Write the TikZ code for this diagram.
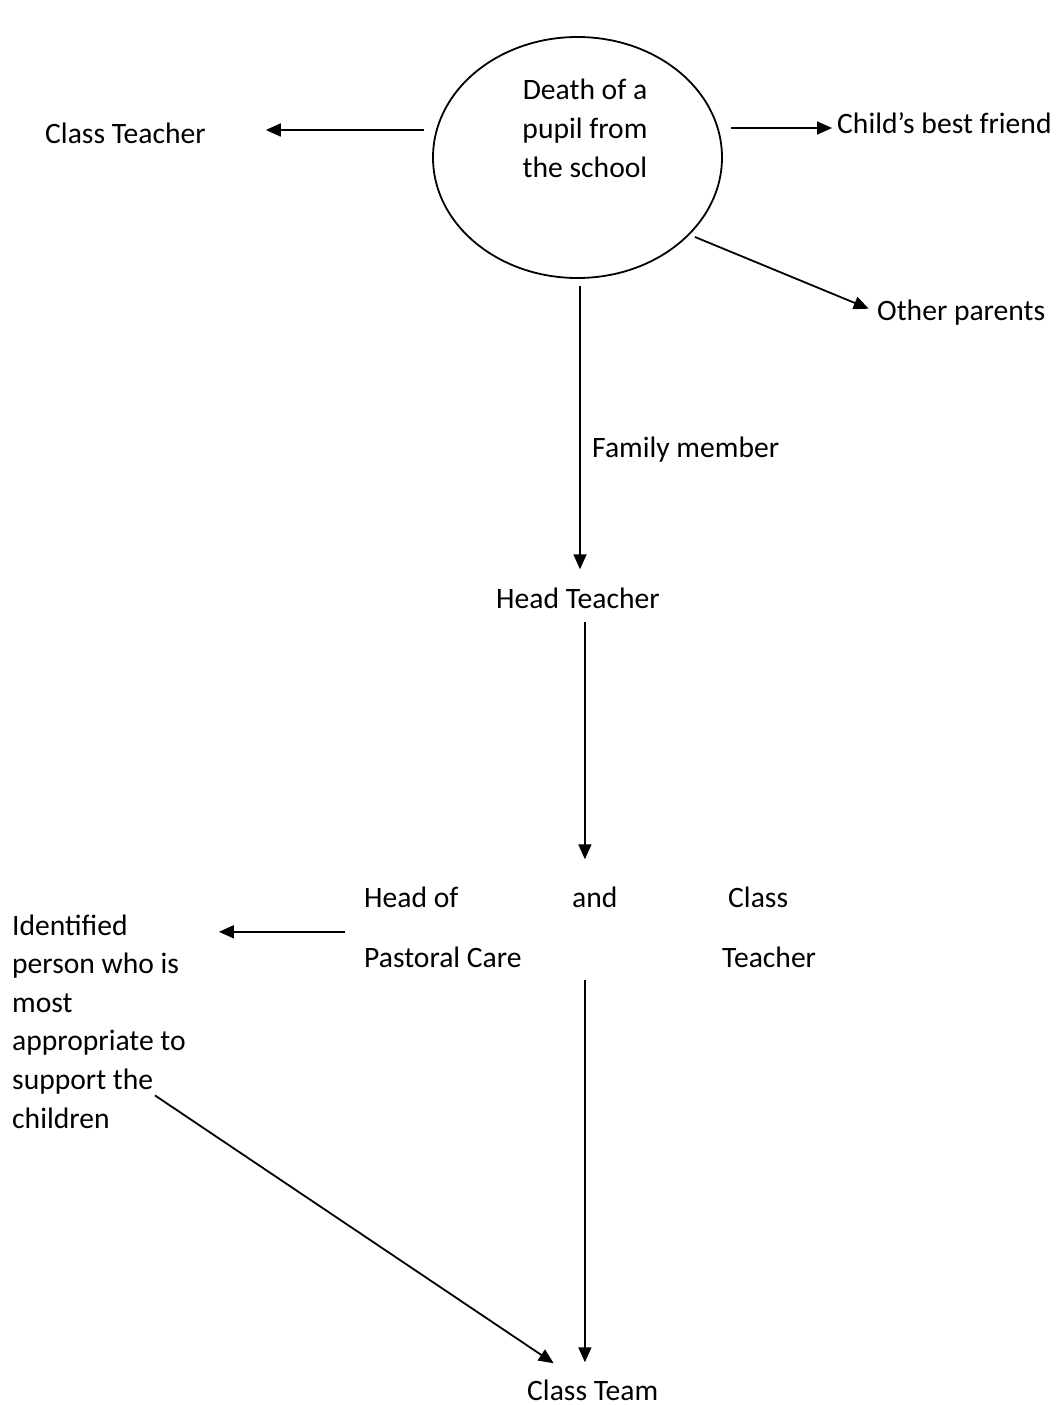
\documentclass[tikz,border=0pt]{standalone}
\usepackage{fontspec}
\setmainfont{Carlito}
\usetikzlibrary{arrows.meta,shapes.geometric,calc}
\begin{document}
\begin{tikzpicture}[x=1pt,y=-1pt,
  lbl/.style={inner sep=0pt, font=\fontsize{29.6}{38.6}\selectfont, anchor=base west},
  arr/.style={line width=1.8pt, -{Triangle[length=15pt,width=13pt]}},
  ln/.style={line width=1.8pt}]
\useasboundingbox (0,0) rectangle (1055,1405);
% nodes
\node[draw, ellipse, line width=1.8pt, minimum width=289pt, minimum height=241pt, inner sep=0pt] (death) at (577.5,157.5) {};
\node[lbl, anchor=base, align=center] (deathtxt) at (585,177) {Death of a\\pupil from\\the school};
\node[lbl] (ct) at (45,143) {Class Teacher};
\node[lbl] (cbf) at (837,133) {Child’s best friend};
\node[lbl] (op) at (877,320) {Other parents};
\node[lbl] (fm) at (592,457) {Family member};
\node[lbl] (ht) at (496,608) {Head Teacher};
\node[lbl] (hp1) at (364,907) {Head of};
\node[lbl] (and) at (572,907) {and};
\node[lbl] (cls) at (728,907) {Class};
\node[lbl] (hp2) at (364,967) {Pastoral Care};
\node[lbl] (tch) at (722,967) {Teacher};
\node[lbl, align=left] (idp) at (12,1128) {Identified\\person who is\\most\\appropriate to\\support the\\children};
\node[lbl] (team) at (527,1400) {Class Team};
% connectors
\draw[arr, shorten >=60pt] ([shift={(-8,-27.5)}]death.west) coordinate (a1) -- (a1 -| ct.east);
\draw[arr, shorten >=5pt] ([shift={(8,-29.5)}]death.east) coordinate (a2) -- (a2 -| cbf.west);
\draw[arr, shorten >=9pt] ([shift={(117.5,79.5)}]death.center) -- (op.west);
\draw[arr, shorten >=18pt] ([shift={(2.5,7.5)}]death.south) coordinate (a3) -- (a3 |- ht.north);
\draw[arr, shorten <=14pt, shorten >=27pt] ([xshift=7pt]ht.south) coordinate (a4) -- (a4 |- and.north);
\draw[arr, shorten >=33pt] ($(hp1.west)!0.5!(hp2.west)+(-19,5)$) coordinate (a5) -- (a5 -| idp.east);
\draw[arr] ([shift={(-31,-33)}]idp.south east) -- ([shift={(-39,-16)}]team.north);
\draw[arr, shorten <=13pt, shorten >=17pt] (a4 |- tch.south) -- (a4 |- team.north);
\end{tikzpicture}
\end{document}
